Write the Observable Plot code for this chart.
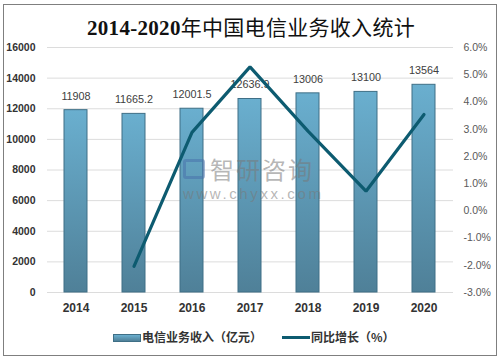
<!DOCTYPE html>
<html>
<head>
<meta charset="utf-8">
<script src="https://cdn.jsdelivr.net/npm/d3@7"></script>
<script src="https://cdn.jsdelivr.net/npm/@observablehq/plot@0.6"></script>
<style>
  html, body { margin: 0; padding: 0; background: #fff; }
  #wrap { position: relative; width: 502px; height: 361px; overflow: hidden; font-family: "Liberation Sans", Arial, "Noto Sans CJK SC", sans-serif; }
  #frame { position: absolute; left: 3px; top: 4px; width: 492px; height: 350px; border: 1.5px solid #7f7f7f; pointer-events: none; }
  #title { position: absolute; left: 0; width: 502px; top: 11px; text-align: center; font-family: "Liberation Serif", "Noto Sans CJK SC", serif; font-size: 21px; font-weight: normal; color: #111; letter-spacing: 0.3px; }
  #title b { font-weight: bold; }
  #chart { position: absolute; left: 0; top: 0; }
  #legend { position: absolute; top: 331px; left: 0; width: 502px; font-size: 12px; font-weight: bold; color: #333; font-family: "Noto Sans CJK SC", sans-serif; }
  .sw-bar { position: absolute; left: 113px; top: 3px; width: 26px; height: 6px; background: linear-gradient(#6aafcf, #4f8098); border: 1px solid #3f6f86; }
  .lab1 { position: absolute; left: 142px; top: -3px; }
  .sw-line { position: absolute; left: 282px; top: 5px; width: 28px; height: 3px; background: #0d5b70; }
  .lab2 { position: absolute; left: 311px; top: -3px; }
  #wm { position: absolute; left: 183px; top: 155px; color: rgba(120,120,120,0.55); pointer-events: none; }
  #wm .cn { position: absolute; left: 27px; top: 0; font-size: 24px; font-family: "Noto Sans CJK SC", sans-serif; letter-spacing: 2px; white-space: nowrap; line-height: 28px; }
  #wm .logo { position: absolute; left: 0; top: 4px; width: 22px; height: 20px; border: 3px solid rgba(70,110,170,0.5); border-radius: 3px; box-sizing: border-box; }
  #wm .url { position: absolute; left: 0; top: 30px; font-size: 15px; letter-spacing: 2.6px; white-space: nowrap; font-family: "Liberation Sans", sans-serif; }
</style>
</head>
<body>
<div id="wrap">
  <div id="chart"></div>
  <div id="title"><b>2014-2020</b>年中国电信业务收入统计</div>
  <div id="wm"><div class="logo"></div><div class="cn">智研咨询</div><div class="url">www.chyxx.com</div></div>
  <div id="legend">
    <div class="sw-bar"></div><div class="lab1">电信业务收入（亿元）</div>
    <div class="sw-line"></div><div class="lab2">同比增长（%）</div>
  </div>
  <div id="frame"></div>
</div>
<script>
const years = ["2014", "2015", "2016", "2017", "2018", "2019", "2020"];
const revenue = [11908, 11665.2, 12001.5, 12636.9, 13006, 13100, 13564];
const revenueLabels = ["11908", "11665.2", "12001.5", "12636.9", "13006", "13100", "13564"];
const growth = [null, -2.04, 2.88, 5.29, 2.93, 0.72, 3.54];
const leftTicks = [0, 2000, 4000, 6000, 8000, 10000, 12000, 14000, 16000];
const rightTicks = [-3, -2, -1, 0, 1, 2, 3, 4, 5, 6];

const yMax = 16000, pMin = -3, pMax = 6;
const toLeft = p => (p - pMin) / (pMax - pMin) * yMax;
const fromLeft = v => v / yMax * (pMax - pMin) + pMin;

const bars = years.map((y, i) => ({year: y, value: revenue[i], label: revenueLabels[i]}));
const line = years.map((y, i) => ({year: y, g: growth[i]})).filter(d => d.g != null).map(d => ({year: d.year, v: toLeft(d.g)}));

const chart = Plot.plot({
  width: 502,
  height: 320,
  marginLeft: 47,
  marginRight: 49,
  marginTop: 47,
  marginBottom: 28,
  style: {fontFamily: "Liberation Sans, Arial, sans-serif", background: "transparent"},
  x: {domain: years, paddingInner: 0.6, paddingOuter: 0.3, label: null},
  y: {domain: [0, yMax], label: null},
  marks: [
    Plot.gridY(leftTicks, {stroke: "#dcdcdc", strokeOpacity: 1, strokeWidth: 1}),
    Plot.barY(bars, {x: "year", y: "value", fill: "url(#barGrad)", stroke: "#3f6f86", strokeWidth: 1}),
    Plot.text(bars, {x: "year", y: "value", text: "label", dy: -14, fontSize: 10.8, fill: "#404040"}),
    Plot.line(line, {x: "year", y: "v", stroke: "#0d5b70", strokeWidth: 3.2, strokeLinejoin: "miter", curve: "linear"}),
    Plot.axisX({tickSize: 0, tickPadding: 11, fontSize: 12, fontWeight: "bold", color: "#333", label: null}),
    Plot.axisY({anchor: "left", ticks: leftTicks, tickSize: 0, tickPadding: 12, fontSize: 10.5, fontWeight: "bold", color: "#333", tickFormat: d => String(d), label: null}),
    Plot.axisY({anchor: "right", ticks: rightTicks.map(toLeft), tickSize: 0, tickPadding: 10, fontSize: 10.5, color: "#595959", tickFormat: d => (Math.round(fromLeft(d) * 10) / 10).toFixed(1) + "%", label: null})
  ]
});

const svg = d3.select(chart);
const defs = svg.insert("defs", ":first-child");
const grad = defs.append("linearGradient").attr("id", "barGrad").attr("x1", 0).attr("y1", 0).attr("x2", 0).attr("y2", 1);
grad.append("stop").attr("offset", "0%").attr("stop-color", "#6aafcf");
grad.append("stop").attr("offset", "100%").attr("stop-color", "#4f8098");

document.getElementById("chart").appendChild(chart);
</script>
</body>
</html>
